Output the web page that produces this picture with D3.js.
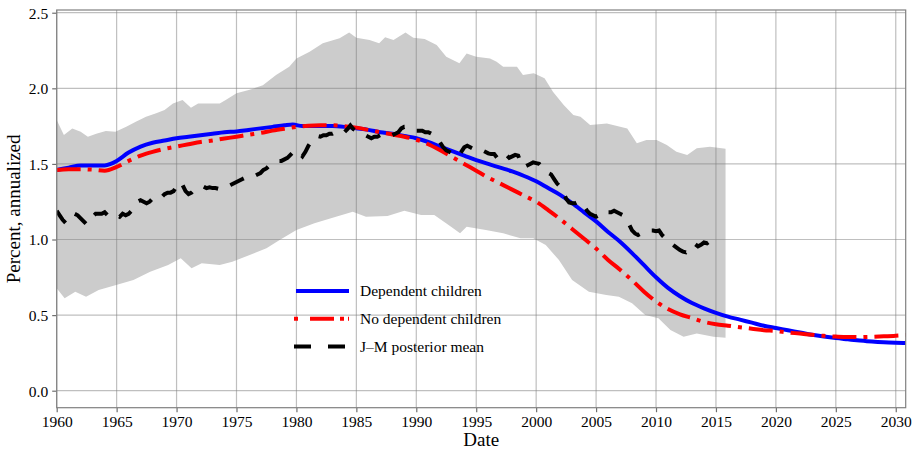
<!DOCTYPE html>
<html>
<head>
<meta charset="utf-8">
<script src="https://cdnjs.cloudflare.com/ajax/libs/d3/7.8.5/d3.min.js"></script>
<style>
  body { margin: 0; background: #fff; }
  text { font-family: "Liberation Serif", "Times New Roman", serif; fill: #000; }
</style>
</head>
<body>
<svg id="chart"></svg>
<script>
const margin = {top: 10, right: 6.3, bottom: 42.3, left: 56.7},
    svgWidth = 912,
    svgHeight = 450,
    width = svgWidth - margin.left - margin.right,
    height = svgHeight - margin.top - margin.bottom;

// tick labels
const xTicks = [1960, 1965, 1970, 1975, 1980, 1985, 1990, 1995, 2000, 2005, 2010, 2015, 2020, 2025, 2030];
const yTicks = [0.0, 0.5, 1.0, 1.5, 2.0, 2.5];

// dependent children (blue) and no dependent children (red)
const depYears = [1960, 1961, 1962, 1963, 1964, 1964.5, 1965, 1966, 1967, 1968, 1969, 1970, 1971, 1972, 1973, 1974, 1975,
    1976, 1977, 1978, 1979, 1979.7, 1980.5, 1981, 1982, 1983, 1984, 1985, 1986, 1987, 1988, 1989, 1990, 1991, 1992,
    1993, 1994, 1995, 1996, 1997, 1998, 1999, 2000, 2001, 2002, 2003, 2004, 2005, 2006, 2007, 2008, 2009, 2010,
    2011, 2012, 2013, 2014, 2015, 2016, 2017, 2018, 2019, 2020, 2021, 2022, 2023, 2024, 2025, 2026, 2027, 2028,
    2029, 2030, 2031];
const depValues = [1.46, 1.475, 1.49, 1.49, 1.49, 1.50, 1.52, 1.575, 1.615, 1.64, 1.655, 1.67, 1.68, 1.69, 1.70, 1.71, 1.715,
    1.725, 1.735, 1.745, 1.755, 1.76, 1.75, 1.75, 1.75, 1.75, 1.745, 1.735, 1.725, 1.71, 1.70, 1.685, 1.67, 1.645, 1.615,
    1.585, 1.555, 1.525, 1.50, 1.475, 1.45, 1.42, 1.385, 1.34, 1.295, 1.24, 1.18, 1.12, 1.05, 0.985, 0.91, 0.83, 0.75,
    0.68, 0.625, 0.58, 0.545, 0.515, 0.49, 0.47, 0.45, 0.43, 0.415, 0.40, 0.385, 0.37, 0.358, 0.348, 0.34, 0.332, 0.325,
    0.32, 0.317, 0.315];

const noDepYears = [1960, 1961, 1962, 1963, 1964, 1965, 1966, 1967, 1968, 1969, 1970, 1971, 1972, 1973, 1974, 1975, 1976,
    1977, 1978, 1979, 1980, 1981, 1982, 1983, 1984, 1985, 1986, 1987, 1988, 1989, 1990, 1991, 1992, 1993, 1994, 1995,
    1996, 1997, 1998, 1999, 2000, 2001, 2002, 2003, 2004, 2005, 2006, 2007, 2008, 2009, 2010, 2011, 2012, 2013, 2014,
    2015, 2016, 2017, 2018, 2019, 2020, 2021, 2022, 2023, 2024, 2025, 2026, 2027, 2028, 2029, 2030, 2031];
const noDepValues = [1.46, 1.465, 1.465, 1.462, 1.455, 1.48, 1.52, 1.555, 1.58, 1.60, 1.615, 1.63, 1.645, 1.655, 1.668, 1.68, 1.693,
    1.705, 1.72, 1.733, 1.745, 1.752, 1.755, 1.755, 1.75, 1.74, 1.725, 1.71, 1.695, 1.68, 1.66, 1.63, 1.59, 1.545, 1.50, 1.455,
    1.41, 1.37, 1.33, 1.29, 1.25, 1.195, 1.135, 1.07, 1.005, 0.94, 0.865, 0.80, 0.73, 0.655, 0.59, 0.54, 0.505, 0.48, 0.455,
    0.44, 0.43, 0.42, 0.41, 0.40, 0.395, 0.385, 0.378, 0.37, 0.363, 0.358, 0.355, 0.355, 0.357, 0.36, 0.364, 0.37];

// J-M posterior mean, quarterly from 1960Q1
const jmStart = 1960;
const jmValues = [1.19, 1.16, 1.13, 1.11, 1.13, 1.15, 1.17, 1.16, 1.14, 1.12, 1.10, 1.12, 1.15, 1.17, 1.17, 1.17,
    1.18, 1.16, 1.17, 1.16, 1.16, 1.15, 1.17, 1.16, 1.17, 1.19, 1.22, 1.25, 1.26, 1.25, 1.24, 1.25,
    1.27, 1.28, 1.29, 1.28, 1.30, 1.31, 1.31, 1.32, 1.35, 1.38, 1.36, 1.32, 1.30, 1.31, 1.33, 1.34,
    1.345, 1.35, 1.34, 1.345, 1.34, 1.34, 1.335, 1.34, 1.34, 1.35, 1.36, 1.37, 1.38, 1.39, 1.40, 1.41,
    1.41, 1.42, 1.42, 1.43, 1.44, 1.46, 1.47, 1.49, 1.50, 1.51, 1.52, 1.52, 1.53, 1.54, 1.56, 1.58,
    1.59, 1.57, 1.55, 1.58, 1.62, 1.65, 1.67, 1.685, 1.68, 1.69, 1.69, 1.70, 1.70, 1.71, 1.71, 1.72,
    1.71, 1.73, 1.755, 1.73, 1.72, 1.71, 1.70, 1.69, 1.68, 1.67, 1.68, 1.68, 1.69, 1.70, 1.695, 1.69,
    1.69, 1.70, 1.71, 1.735, 1.745, 1.745, 1.74, 1.73, 1.72, 1.72, 1.72, 1.71, 1.71, 1.70, 1.69, 1.67,
    1.64, 1.61, 1.59, 1.58, 1.57, 1.56, 1.55, 1.58, 1.61, 1.62, 1.61, 1.60, 1.59, 1.595, 1.59, 1.58,
    1.57, 1.565, 1.565, 1.54, 1.55, 1.57, 1.56, 1.54, 1.55, 1.56, 1.555, 1.50, 1.48, 1.49, 1.50, 1.51,
    1.505, 1.50, 1.48, 1.46, 1.44, 1.43, 1.40, 1.37, 1.35, 1.32, 1.27, 1.245, 1.24, 1.24, 1.25, 1.245,
    1.22, 1.19, 1.17, 1.16, 1.15, 1.16, 1.175, 1.19, 1.18, 1.18, 1.19, 1.18, 1.17, 1.16, 1.13, 1.10,
    1.06, 1.04, 1.03, 1.04, 1.05, 1.05, 1.06, 1.06, 1.055, 1.06, 1.03, 1.01, 0.99, 0.975, 0.96, 0.945,
    0.93, 0.92, 0.915, 0.93, 0.96, 0.97, 0.955, 0.965, 0.98, 0.975, 0.99, 1.00];

// posterior band, upper and lower edges
const upperYears = [1960, 1960.6, 1961.3, 1962, 1962.6, 1963.3, 1964.1, 1964.9, 1965.8, 1966.6, 1967.45, 1968.3, 1969,
    1969.7, 1970.5, 1971.2, 1971.8, 1972.7, 1973.6, 1974.1, 1975, 1976.1, 1977.2, 1978.3, 1979.4, 1980, 1981.1, 1982.2,
    1983.6, 1984.4, 1985, 1986.1, 1986.9, 1987.4, 1988.1, 1989.1, 1989.75, 1990.7, 1991.7, 1992.5, 1993.6, 1994.2,
    1995, 1996.15, 1996.7, 1997.25, 1998.4, 1998.9, 1999.8, 2000.7, 2001.4, 2002.3, 2003.1, 2003.7, 2004.5, 2005.9,
    2007.6, 2008.4, 2009.2, 2010.05, 2010.9, 2011.7, 2012.6, 2013.4, 2014.5, 2015.8];
const upperValues = [1.79, 1.691, 1.735, 1.713, 1.68, 1.70, 1.717, 1.713, 1.746, 1.779, 1.812, 1.835, 1.856,
    1.90, 1.923, 1.872, 1.90, 1.90, 1.90, 1.923, 1.967, 1.99, 2.02, 2.088, 2.143, 2.198, 2.242, 2.298,
    2.331, 2.37, 2.335, 2.32, 2.298, 2.338, 2.319, 2.37, 2.335, 2.326, 2.286, 2.209, 2.165, 2.231,
    2.209, 2.198, 2.176, 2.143, 2.143, 2.088, 2.099, 2.066, 1.978, 1.89, 1.823, 1.812, 1.757, 1.768,
    1.735, 1.636, 1.658, 1.658, 1.625, 1.581, 1.559, 1.603, 1.614, 1.60];
const lowerYears = [1960, 1960.66, 1961.55, 1962.45, 1963.5, 1964.96, 1966.4, 1967.8, 1969.3, 1970.35, 1971.25, 1972.1,
    1973.6, 1974.65, 1976.1, 1977.5, 1978.6, 1980, 1981.5, 1983.3, 1984.7, 1985.8, 1987.6, 1989, 1990.4, 1991.5,
    1992.9, 1993.65, 1994.2, 1995.8, 1997.25, 1998.7, 1999.75, 2000.8, 2001.9, 2003, 2004.4, 2005.85, 2006.9, 2008,
    2009.1, 2010.2, 2011.2, 2012.3, 2013.4, 2014.8, 2015.8];
const lowerValues = [0.677, 0.611, 0.655, 0.622, 0.666, 0.699, 0.732, 0.787, 0.831, 0.876, 0.81, 0.843,
    0.831, 0.853, 0.897, 0.942, 0.997, 1.063, 1.107, 1.151, 1.184, 1.151, 1.155, 1.19, 1.162, 1.162,
    1.085, 1.041, 1.085, 1.063, 1.041, 1.008, 1.008, 0.964, 0.864, 0.732, 0.655, 0.633, 0.622, 0.578,
    0.501, 0.479, 0.401, 0.357, 0.379, 0.357, 0.35];

const legendLabels = ["Dependent children", "No dependent children", "J\u2013M posterior mean"];

const chart = d3.select('#chart')
    .attr("width", svgWidth)
    .attr("height", svgHeight);

const innerChart = chart.append("g")
    .attr("transform", "translate(" + margin.left + "," + margin.top + ")");

var xScale = d3.scaleLinear().domain([1960, 2030.83]).range([0, width]);
var yScale = d3.scaleLinear().domain([-0.1124, 2.518]).range([height, 0]);

innerChart.append("clipPath").attr("id", "plotclip")
    .append("rect").attr("width", width).attr("height", height);

var line = d3.line().x(d => xScale(d[0])).y(d => yScale(d[1]));

// band: upper edge forward, lower edge back
var bandPts = upperYears.map((y, i) => [y, upperValues[i]])
    .concat(lowerYears.map((y, i) => [y, lowerValues[i]]).reverse());
innerChart.append("path")
    .datum(bandPts)
    .attr("fill", "#cccccc")
    .attr("d", line.curve(d3.curveLinearClosed));

// grid
var grid = innerChart.append("g").attr("stroke", "#808080").attr("stroke-opacity", 0.5).attr("stroke-width", 1.2);
grid.selectAll(".gx").data(xTicks).enter().append("line")
    .attr("x1", d => xScale(d)).attr("x2", d => xScale(d))
    .attr("y1", 0).attr("y2", height);
grid.selectAll(".gy").data(yTicks).enter().append("line")
    .attr("x1", 0).attr("x2", width)
    .attr("y1", d => yScale(d)).attr("y2", d => yScale(d));

// lines
var lines = innerChart.append("g").attr("clip-path", "url(#plotclip)").attr("fill", "none");

lines.append("path")
    .datum(depYears.map((y, i) => [y, depValues[i]]))
    .attr("d", line.curve(d3.curveMonotoneX))
    .attr("stroke", "#0000ff").attr("stroke-width", 4);

lines.append("path")
    .datum(noDepYears.map((y, i) => [y, noDepValues[i]]))
    .attr("d", line.curve(d3.curveMonotoneX))
    .attr("stroke", "#ff0000").attr("stroke-width", 4)
    .attr("stroke-dasharray", "24,7,4,7");

lines.append("path")
    .datum(jmValues.map((v, i) => [jmStart + i / 4, v]))
    .attr("d", line.curve(d3.curveLinear))
    .attr("stroke", "#000").attr("stroke-width", 4)
    .attr("stroke-dasharray", "15,13");

// axes
var xAxis = d3.axisBottom(xScale).tickValues(xTicks).tickFormat(d3.format("d")).tickSize(4.5).tickPadding(4);
var yAxis = d3.axisLeft(yScale).tickValues(yTicks).tickFormat(d3.format(".1f")).tickSize(4.5).tickPadding(4);

var gx = innerChart.append("g").attr("transform", "translate(0," + height + ")").call(xAxis);
var gy = innerChart.append("g").call(yAxis);
[gx, gy].forEach(function(g) {
    g.select(".domain").remove();
    g.selectAll("line").attr("stroke", "#707070").attr("stroke-width", 1.2);
    g.selectAll("text").style("font-size", "15.5px").attr("fill", "#000");
});
gy.selectAll("text").attr("dy", "0.35em");

// frame
innerChart.append("rect")
    .attr("width", width).attr("height", height)
    .attr("fill", "none").attr("stroke", "#808080").attr("stroke-width", 1.2);

innerChart.append("text")
    .attr("x", width / 2).attr("y", height + 38)
    .style("text-anchor", "middle").style("font-size", "19px")
    .text("Date");

innerChart.append("text")
    .attr("transform", "rotate(-90)")
    .attr("x", -height / 2).attr("y", -margin.left + 20)
    .style("text-anchor", "middle").style("font-size", "19px")
    .text("Percent, annualized");

// legend
var legend = innerChart.append("g").attr("transform", "translate(" + (296 - margin.left) + "," + (291 - margin.top) + ")");
var legendStyles = [
    {color: "#0000ff", dash: null},
    {color: "#ff0000", dash: "4,12,24,6,4"},
    {color: "#000", dash: "17,17"}
];
legendLabels.forEach(function(lbl, i) {
    legend.append("line")
        .attr("x1", i == 0 ? 0 : -2).attr("x2", 53)
        .attr("y1", i * 27.8).attr("y2", i * 27.8)
        .attr("stroke", legendStyles[i].color).attr("stroke-width", 4)
        .attr("stroke-dasharray", legendStyles[i].dash);
    legend.append("text")
        .attr("x", 64).attr("y", i * 27.8).attr("dy", "0.35em")
        .style("font-size", "15.5px")
        .text(lbl);
});
</script>
</body>
</html>
